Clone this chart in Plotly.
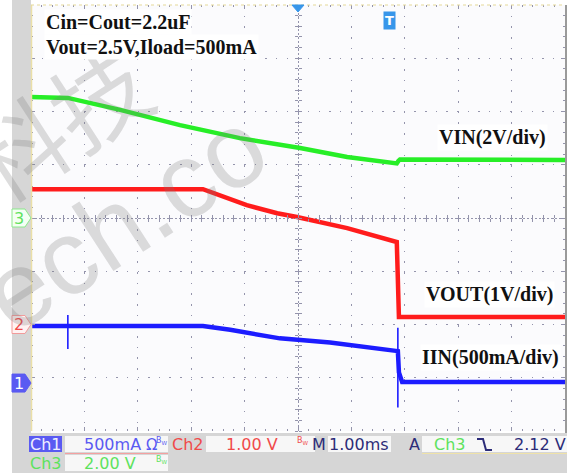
import plotly.graph_objects as go

# ---------------- data ----------------
# time axis: 10 divisions at 1.00 ms/div -> 0..10 ms across the screen
vin_t = [0.0, 0.69, 1.67, 2.79, 3.91, 5.04, 5.92, 6.78, 6.85, 6.88, 6.91, 10.0]
vin_v = [4.54, 4.51, 4.06, 3.49, 3.00, 2.63, 2.29, 2.07, 2.05, 2.14, 2.20, 2.18]

vout_t = [0.0, 3.22, 4.04, 4.61, 4.98, 5.92, 6.85, 6.89, 10.0]
vout_v = [2.54, 2.54, 2.24, 2.09, 2.02, 1.81, 1.55, 0.14, 0.14]

iin_t = [0.0, 3.22, 3.73, 4.66, 5.60, 6.85, 6.87, 6.89, 6.95, 10.0]
iin_a = [0.536, 0.536, 0.50, 0.42, 0.38, 0.30, 0.30, 0.10, 0.01, 0.01]
# short glitches on the current trace
iin_glitch_t = [0.69, 0.69, None, 6.87, 6.87]
iin_glitch_a = [0.64, 0.32, None, 0.52, -0.23]

# channel settings: volts (or amps) per division and ground marker offset (div)
vin_per_div, vin_offset = 2.0, 0.0      # Ch3
vout_per_div, vout_offset = 1.0, -2.0   # Ch2
iin_per_div, iin_offset = 0.5, -3.1     # Ch1

n_xdiv, n_ydiv = 10, 8

notes = ["Cin=Cout=2.2uF", "Vout=2.5V,Iload=500mA"]
labels = ["VIN(2V/div)", "VOUT(1V/div)", "IIN(500mA/div)"]
status_row1 = ["Ch1", "500mA", "Ω", "Ch2", "1.00 V", "M", "1.00ms", "A", "Ch3", "2.12 V"]
status_row2 = ["Ch3", "2.00 V"]
watermark = ["科技", "ech.co"]

# ---------------- colours ----------------
GREEN = "#27ee27"
RED = "#ff1c1c"
BLUE = "#1c1cff"
GRID = "#9494ac"
T_BLUE = "#5a5af2"
T_RED = "#f04a4a"
T_GREEN = "#5ee25e"
NAVY = "#2c2c78"

# ---------------- geometry helpers (pixel -> paper) ----------------
W, H = 578, 473
L, R, T, B = 31, 565, 5, 431
PW, PH = R - L, B - T


def px(x):
    return (x - L) / PW


def py(y):
    return (B - y) / PH


def to_div(vals, per_div, off):
    return [None if v is None else v / per_div + off for v in vals]


fig = go.Figure()
fig.add_trace(go.Scatter(x=vin_t, y=to_div(vin_v, vin_per_div, vin_offset), mode="lines",
                         line=dict(color=GREEN, width=4.5), hoverinfo="skip"))
fig.add_trace(go.Scatter(x=vout_t, y=to_div(vout_v, vout_per_div, vout_offset), mode="lines",
                         line=dict(color=RED, width=4.5), hoverinfo="skip"))
fig.add_trace(go.Scatter(x=iin_t, y=to_div(iin_a, iin_per_div, iin_offset), mode="lines",
                         line=dict(color=BLUE, width=4.5), hoverinfo="skip"))
fig.add_trace(go.Scatter(x=iin_glitch_t, y=to_div(iin_glitch_a, iin_per_div, iin_offset), mode="lines",
                         line=dict(color=BLUE, width=1.6), hoverinfo="skip", connectgaps=False))
# empty traces so the centre-line axes get drawn
for xa, ya in [("x2", "y"), ("x3", "y"), ("x", "y2"), ("x", "y3")]:
    fig.add_trace(go.Scatter(x=[None], y=[None], xaxis=xa, yaxis=ya, hoverinfo="skip"))

xr = [0, n_xdiv]
yr = [-n_ydiv / 2, n_ydiv / 2]

common = dict(showticklabels=False, zeroline=False, showline=False, fixedrange=True)
fig.update_layout(
    width=W, height=H,
    margin=dict(l=L, r=W - R, t=T, b=H - B, pad=0),
    paper_bgcolor="white", plot_bgcolor="#fbfbfd",
    showlegend=False,
    xaxis=dict(range=xr, dtick=1, tick0=0, showgrid=True, gridcolor=GRID, gridwidth=1,
               griddash="1.5px,9.18px", ticks="inside", ticklen=4, tickcolor=GRID, mirror="ticks",
               minor=dict(ticks="inside", dtick=0.2, tick0=0, ticklen=2, tickcolor=GRID, showgrid=False),
               **common),
    yaxis=dict(range=yr, dtick=1, tick0=0, showgrid=True, gridcolor=GRID, gridwidth=1,
               griddash="1.5px,9.15px", ticks="inside", ticklen=4, tickcolor=GRID, mirror="ticks",
               minor=dict(ticks="inside", dtick=0.2, tick0=0, ticklen=2, tickcolor=GRID, showgrid=False),
               **common),
    xaxis2=dict(range=xr, overlaying="x", anchor="free", position=0.5, tickvals=[n_xdiv / 2],
                showgrid=True, gridcolor=GRID, griddash="2px,2px", ticks="",
                minor=dict(ticks="inside", dtick=0.2, tick0=0, ticklen=3, tickcolor=GRID, showgrid=False),
                **common),
    xaxis3=dict(range=xr, overlaying="x", anchor="free", position=0.5, tickvals=[n_xdiv / 2],
                showgrid=False, ticks="",
                minor=dict(ticks="outside", dtick=0.2, tick0=0, ticklen=3, tickcolor=GRID, showgrid=False),
                **common),
    yaxis2=dict(range=yr, overlaying="y", anchor="free", position=0.5, tickvals=[0],
                showgrid=True, gridcolor=GRID, griddash="2px,2px", ticks="",
                minor=dict(ticks="inside", dtick=0.2, tick0=0, ticklen=3, tickcolor=GRID, showgrid=False),
                **common),
    yaxis3=dict(range=yr, overlaying="y", anchor="free", position=0.5, tickvals=[0],
                showgrid=False, ticks="",
                minor=dict(ticks="outside", dtick=0.2, tick0=0, ticklen=3, tickcolor=GRID, showgrid=False),
                **common),
)

shapes = []
ann = []


def rect(x0, y0, x1, y1, fill, line=None, layer="below"):
    shapes.append(dict(type="rect", xref="paper", yref="paper", x0=px(x0), x1=px(x1),
                       y0=py(y1), y1=py(y0), fillcolor=fill, layer=layer,
                       line=dict(width=0) if line is None else line))


def hline(x0, x1, y, color, width=1, dash="solid"):
    shapes.append(dict(type="line", xref="paper", yref="paper", x0=px(x0), x1=px(x1), y0=py(y), y1=py(y),
                       line=dict(color=color, width=width, dash=dash)))


def vline(x, y0, y1, color, width=1):
    shapes.append(dict(type="line", xref="paper", yref="paper", x0=px(x), x1=px(x), y0=py(y0), y1=py(y1),
                       line=dict(color=color, width=width)))


def path(points, fill, color, width=1, close=True):
    d = "M " + " L ".join(f"{px(a):.5f},{py(b):.5f}" for a, b in points) + (" Z" if close else "")
    shapes.append(dict(type="path", xref="paper", yref="paper", path=d,
                       fillcolor=fill if close else None, line=dict(color=color, width=width)))


def text(x, y, s, color, size=16, family="DejaVu Sans", xanchor="center", bg=None, angle=0, bold=False):
    a = dict(x=px(x), y=py(y), xref="paper", yref="paper", text=(f"<b>{s}</b>" if bold else s),
             showarrow=False, font=dict(color=color, size=size, family=family),
             xanchor=xanchor, yanchor="middle", textangle=angle)
    if bg:
        a.update(bgcolor=bg, borderpad=1)
    ann.append(a)


# frame decorations
rect(12, 0, 31, 473, "#d6d6d6")                 # left grey band
rect(12, 433, 567, 473, "#d6d6d6")              # bottom status bar
vline(31.5, 5, 431, "#eadfa8", 1.5)             # left frame edge
hline(31, 565, 5, "#e6da9a", 1.2, "dot")        # top frame edge
vline(566, 5, 433, "#9a9a9a", 2)                # right frame edge

# channel ground markers
def marker(y, fill, edge):
    path([(12, y - 9), (25, y - 9), (31, y), (25, y + 9), (12, y + 9)], fill, edge, 1)


y3 = 218 - vin_offset * PH / n_ydiv
y2 = 218 - vout_offset * PH / n_ydiv
y1 = 218 - iin_offset * PH / n_ydiv
marker(y3, "#f4fff4", "#8ce88c")
marker(y2, "#fff2f2", "#f29a9a")
marker(y1, T_BLUE, T_BLUE)
text(19, y3, "3", T_GREEN, 16)
text(19, y2, "2", T_RED, 16)
text(19, y1, "1", "white", 16)

# trigger position markers
path([(292, 5), (304, 5), (298, 12)], "#3796ea", "#3796ea", 1)
text(389, 21, "T", "white", 13, "DejaVu Sans", bg="#3796ea", bold=True)

# faint watermark (drawn first so labels sit on top)
WM = "rgba(120,120,120,0.25)"
text(57, 120, watermark[0], WM, 96, "Noto Sans CJK SC", angle=-33)
text(124, 220, watermark[1], WM, 106, "Liberation Sans", angle=-33)

# notes and channel labels
text(44, 22, notes[0], "#111111", 20, "Liberation Serif", "left", bg="white", bold=True)
text(44, 47, notes[1], "#111111", 20, "Liberation Serif", "left", bg="white", bold=True)
text(492, 137, labels[0], "#111111", 20, "Liberation Serif", bg="white", bold=True)
text(489, 294, labels[1], "#111111", 20, "Liberation Serif", bg="white", bold=True)
text(490, 357, labels[2], "#111111", 20, "Liberation Serif", bg="white", bold=True)

# status bar boxes
rect(29, 436, 62, 452, T_BLUE, layer="above")
rect(65, 436, 168, 452, "#f7f7f7", layer="above")
rect(206, 436, 315, 452, "#f7f7f7", layer="above")
rect(328, 436, 391, 452, "#f7f7f7", layer="above")
rect(422, 436, 567, 452, "#f7f7f7", layer="above")
rect(65, 455, 168, 471, "#f7f7f7", layer="above")
hline(65, 168, 453.5, "#f4a0a0", 1)
hline(422, 567, 453.5, "#efe2a8", 1)

r1, r2 = 444.5, 463.5
text(45.5, r1, status_row1[0], "#eeeeff", 16)
text(112, r1, status_row1[1], T_BLUE, 16)
text(151, r1, status_row1[2], T_BLUE, 15)
text(162, r1 - 4, "B<sub>W</sub>", T_BLUE, 8)
text(188, r1, status_row1[3], T_RED, 16)
text(252, r1, status_row1[4], T_RED, 16)
text(303, r1 - 4, "B<sub>W</sub>", T_RED, 8)
text(319, r1, status_row1[5], NAVY, 16)
text(359, r1, status_row1[6], NAVY, 16)
text(414, r1, status_row1[7], NAVY, 16)
text(450, r1, status_row1[8], T_GREEN, 16)
path([(477, 439), (483, 439), (486, 450), (492, 450)], None, NAVY, 2, close=False)
text(540, r1, status_row1[9], NAVY, 16)
text(46, r2, status_row2[0], T_GREEN, 16)
text(110, r2, status_row2[1], T_GREEN, 16)
text(162, r2 - 4, "B<sub>W</sub>", T_GREEN, 8)

fig.update_layout(shapes=shapes, annotations=ann)
fig.write_html("out.html", config={"displayModeBar": False},
               post_script="document.body.style.margin='0';document.body.style.overflow='hidden';")
